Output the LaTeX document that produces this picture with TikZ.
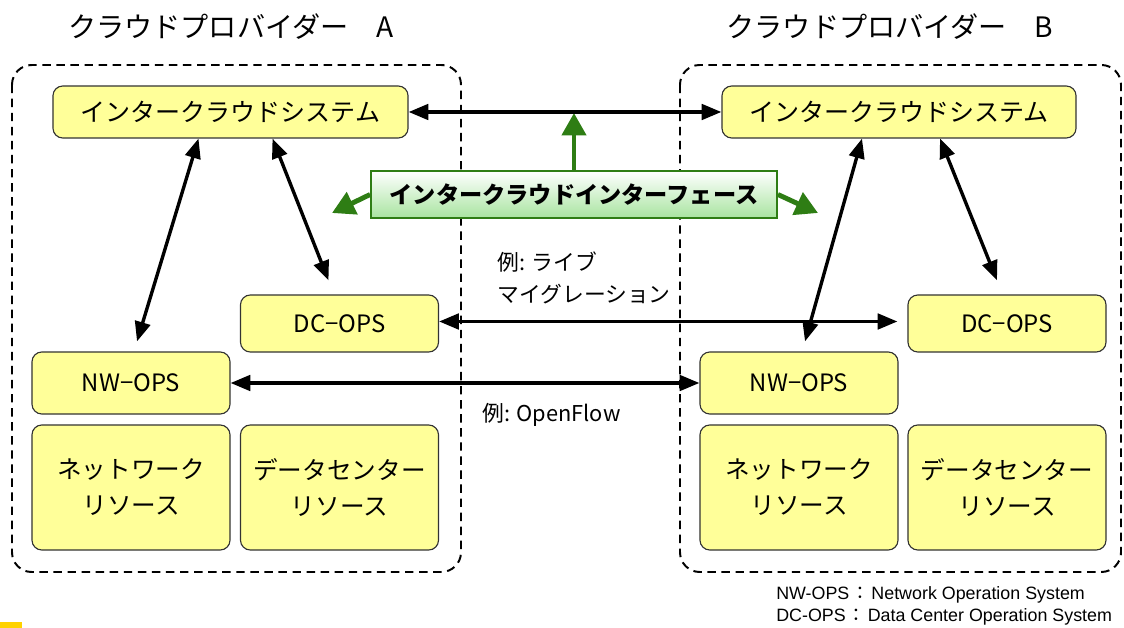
\documentclass[tikz,border=0pt]{standalone}
\usepackage{fontspec}
\setmainfont{Noto Sans CJK JP}
\newfontfamily\notefont{Liberation Sans}
\newfontfamily\jpfont{Noto Sans CJK JP}
\usetikzlibrary{arrows.meta}
\usetikzlibrary{calc}
\definecolor{boxyellow}{RGB}{255,255,153}
\definecolor{ifgreen}{RGB}{46,125,20}
\definecolor{ifshade}{RGB}{168,228,160}
\definecolor{markgold}{RGB}{255,210,0}
\newcommand{\legsep}{\hspace{1.5pt}{\jpfont ：}\hspace{1.5pt}}
\tikzset{sysbox/.style = {draw=black!80, fill=boxyellow, line width=0.8pt,
                          rounded corners=7pt, inner sep=0pt, align=center},
         cloud/.style = {dashed, line width=1.4pt, dash pattern=on 6pt off 4pt,
                         rounded corners=14pt},
         link/.style = {{Triangle[length=14pt,width=11pt]}-{Triangle[length=14pt,width=11pt]},
                        line width=2.4pt},
         ifarrow/.style = {-{Triangle[length=16pt,width=17pt]}, line width=3.5pt, draw=ifgreen}}

\begin{document}
\begin{tikzpicture}[x=0.025cm, y=-0.025cm]
      \useasboundingbox (0, 0) rectangle (1124, 628);

      % providers
      \node (titleA) at (231, 27) {\fontsize{20}{24}\selectfont クラウドプロバイダー　A};
      \node (titleB) at (890, 27) {\fontsize{20}{24}\selectfont クラウドプロバイダー　B};
      \draw [cloud] (12, 65) rectangle (461, 572);
      \draw [cloud] (680, 65) rectangle (1121, 572);

      % provider A
      \node [sysbox, minimum width=8.875cm, minimum height=1.3cm,
             font=\fontsize{17.8}{21}\selectfont] (icsA) at (230.5, 112) {インタークラウドシステム};
      \node [sysbox, minimum width=4.95cm, minimum height=1.425cm,
             font=\fontsize{17}{20}\selectfont] (dcA) at (339.5, 323.5) {DC−OPS};
      \node [sysbox, minimum width=4.95cm, minimum height=1.55cm,
             font=\fontsize{17}{20}\selectfont] (nwA) at (131, 383) {NW−OPS};
      \node [sysbox, minimum width=4.95cm, minimum height=3.125cm,
             font=\fontsize{17.5}{25.5}\selectfont] (netA) at (131, 487.5) {ネットワーク\\リソース};
      \node [sysbox, minimum width=4.95cm, minimum height=3.125cm,
             font=\fontsize{17.5}{25.5}\selectfont] (dcresA) at (339.5, 487.5) {データセンター\\リソース};

      % provider B
      \node [sysbox, minimum width=8.85cm, minimum height=1.3cm,
             font=\fontsize{17.8}{21}\selectfont] (icsB) at (899, 112) {インタークラウドシステム};
      \node [sysbox, minimum width=4.95cm, minimum height=1.425cm,
             font=\fontsize{17}{20}\selectfont] (dcB) at (1007, 323.5) {DC−OPS};
      \node [sysbox, minimum width=4.95cm, minimum height=1.55cm,
             font=\fontsize{17}{20}\selectfont] (nwB) at (799, 383) {NW−OPS};
      \node [sysbox, minimum width=4.95cm, minimum height=3.125cm,
             font=\fontsize{17.5}{25.5}\selectfont] (netB) at (799, 487.5) {ネットワーク\\リソース};
      \node [sysbox, minimum width=4.95cm, minimum height=3.125cm,
             font=\fontsize{17.5}{25.5}\selectfont] (dcresB) at (1007, 487.5) {データセンター\\リソース};

      % interface
      \node [draw=ifgreen, line width=1.2pt, top color=white, bottom color=ifshade,
             minimum width=10.15cm, minimum height=1.175cm, inner sep=0pt,
             font=\fontsize{16.5}{20}\selectfont\bfseries] (iface) at (574, 194.5) {インタークラウドインターフェース};
      \coordinate (ifup) at (574, 113);
      \coordinate (ifleft) at (332, 213);
      \coordinate (ifright) at (818, 213);
      \draw [ifarrow] (iface.north) -- (ifup);
      \draw [ifarrow] (iface.west) -- (ifleft);
      \draw [ifarrow] (iface.east) -- (ifright);

      % links
      \draw [link] (icsA.east) -- (icsB.west);
      \draw [link] ($(icsA.south)+(-32, 0)$) -- ($(nwA.north)+(6, -10)$);
      \draw [link] ($(icsA.south)+(42, 0)$) -- ($(dcA.north)+(-11, -14)$);
      \draw [link] ($(icsB.south)+(-37, 0)$) -- ($(nwB.north)+(6, -10)$);
      \draw [link] ($(icsB.south)+(41, 0)$) -- ($(dcB.north)+(-10, -14)$);
      \draw [link] ($(dcA.east)+(0, -2)$) -- ($(dcB.west)+(-10, -2)$);
      \draw [link] (nwA.east) -- (nwB.west);

      \node [anchor=west, align=left, inner sep=0pt,
             font=\fontsize{15.5}{22.6}\selectfont] (migr) at (497, 278) {例: ライブ\\マイグレーション};
      \node [anchor=west, inner sep=0pt,
             font=\fontsize{15.5}{19}\selectfont] (oflow) at (482, 415) {例: OpenFlow};

      % legend
      \node [anchor=west, align=left, inner sep=0pt,
             font=\notefont\fontsize{12.7}{15.6}\selectfont] (legend) at (776, 606)
            {NW-OPS\legsep Network Operation System\\DC-OPS\legsep Data Center Operation System};
      \fill [markgold] (0, 622) rectangle (22, 628);
    \end{tikzpicture}
\end{document}
